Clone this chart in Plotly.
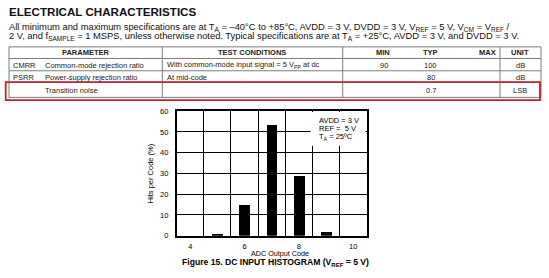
import plotly.graph_objects as go

W, H = 549, 278
FONT = "Liberation Sans, Arial, sans-serif"

# ---- histogram data -------------------------------------------------------
codes = [4, 5, 6, 7, 8, 9, 10]
hits_pct = [0.0, 0.7, 14.6, 53.4, 28.7, 1.7, 0.0]
x_tick_vals = [4, 6, 8, 10]
x_tick_text = ["4", "6", "8", "10"]
code_bounds = [4.5, 5.5, 6.5, 7.5, 8.5, 9.5]
y_tick_vals = [0, 10, 20, 30, 40, 50, 60]

# ---- spec table contents --------------------------------------------------
table_header = ["PARAMETER", "TEST CONDITIONS", "MIN", "TYP", "MAX", "UNIT"]
row_symbols = ["CMRR", "PSRR", ""]
row_names = ["Common-mode rejection ratio", "Power-supply rejection ratio", "Transition noise"]
row_conditions = ["With common-mode input signal = 5 V<sub>PP</sub> at dc", "At mid-code", ""]
row_min = ["90", "", ""]
row_typ = ["100", "80", "0.7"]
row_max = ["", "", ""]
row_units = ["dB", "dB", "LSB"]

title_text = "ELECTRICAL CHARACTERISTICS"
note_lines = [
    "All minimum and maximum specifications are at T<sub>A</sub> = \u201340\u00b0C to +85\u00b0C, "
    "AVDD = 3 V, DVDD = 3 V, V<sub>REF</sub> = 5 V, V<sub>CM</sub> = V<sub>REF</sub> /",
    "2 V, and f<sub>SAMPLE</sub> = 1 MSPS, unless otherwise noted. Typical specifications are at "
    "T<sub>A</sub> = +25\u00b0C, AVDD = 3 V, and DVDD = 3 V.",
]
cond_lines = ["AVDD = 3 V", "REF =  5 V", "T<sub>A</sub> = 25\u00baC"]
caption = "Figure 15. DC INPUT HISTOGRAM (V<sub>REF</sub> = 5 V)"


def px(x):
    return x / W


def py(y):
    return 1 - y / H


# plot-area geometry (pixels)
PL, PR, PT, PB = 176.7, 366.7, 110.7, 239.5

fig = go.Figure()
fig.add_trace(go.Bar(x=codes, y=hits_pct, width=0.4,
                     marker=dict(color="black", line=dict(width=0)),
                     hoverinfo="x+y"))

shapes = []
annotations = []


def text(x, y, s, size, anchor="left", bold=False, color="#222", angle=0):
    annotations.append(dict(
        x=px(x), y=py(y), xref="paper", yref="paper", text=f"<b>{s}</b>" if bold else s,
        showarrow=False, xanchor=anchor, yanchor="middle", textangle=angle, borderpad=0,
        font=dict(family=FONT, size=size, color=color)))


def hline(x0, x1, y, color, width=1):
    shapes.append(dict(type="line", xref="paper", yref="paper", x0=px(x0), x1=px(x1),
                       y0=py(y), y1=py(y), line=dict(color=color, width=width)))


def vline(x, y0, y1, color, width=1):
    shapes.append(dict(type="line", xref="paper", yref="paper", x0=px(x), x1=px(x),
                       y0=py(y0), y1=py(y1), line=dict(color=color, width=width)))


# ---- heading and notes ----------------------------------------------------
text(8, 7.5, title_text, 11.6, bold=True, color="#111")
text(8, 24.0, note_lines[0], 9.35, color="#111")
text(8, 33.4, note_lines[1], 9.35, color="#111")

# ---- table grid -----------------------------------------------------------
GRID = "#7d7d7d"
TL, TR = 9, 541
row_y = [44.3, 56.3, 69.0, 81.0, 96.5]
col_x = [TL, 162.3, 342.7, 500.0, TR]
for y in row_y:
    hline(TL, TR, y, GRID)
for x in col_x:
    vline(x, row_y[0], row_y[-1], GRID)

# header
hy = 50.3
text(86, hy, table_header[0], 7.5, anchor="center", bold=True)
text(252, hy, table_header[1], 7.5, anchor="center", bold=True)
text(383, hy, table_header[2], 7.5, anchor="center", bold=True)
text(431, hy, table_header[3], 7.5, anchor="center", bold=True)
text(497, hy, table_header[4], 7.5, anchor="right", bold=True)
text(520, hy, table_header[5], 7.5, anchor="center", bold=True)

# body rows
body_y = [63.3, 76.0, 89.3]
for i, y in enumerate(body_y):
    if row_symbols[i]:
        text(12, y, row_symbols[i], 7.5)
    text(44, y, row_names[i], 7.5)
    if row_conditions[i]:
        text(165.5, y, row_conditions[i], 7.5)
    if row_min[i]:
        text(384, y, row_min[i], 7.5, anchor="center")
    if row_typ[i]:
        text(431, y, row_typ[i], 7.5, anchor="center")
    if row_max[i]:
        text(497, y, row_max[i], 7.5, anchor="right")
    text(520, y, row_units[i], 7.5, anchor="center")

# highlight around the transition-noise row
shapes.append(dict(type="rect", xref="paper", yref="paper",
                   x0=px(5.7), x1=px(540), y0=py(99.3), y1=py(80.7),
                   line=dict(color="#c8202a", width=1.8), fillcolor="rgba(0,0,0,0)"))

# ---- chart labels -----------------------------------------------------------
# white panel behind the test-condition legend
shapes.append(dict(type="rect", xref="paper", yref="paper", layer="above",
                   x0=px(310.5), x1=px(PR - 1), y0=py(146.5), y1=py(PT + 1),
                   line=dict(width=0), fillcolor="white"))
for s, y in zip(cond_lines, [120, 129, 137.7]):
    text(318, y, s, 7.5, color="black")

text(150, 175, "Hits per Code (%)", 7.5, anchor="center", color="black", angle=-90)
text(280, 257.4, "ADC Output Code", 7.2, anchor="center", color="black")
text(275, 267.0, caption, 8.6, anchor="center", bold=True, color="black")

fig.update_layout(
    width=W, height=H, margin=dict(l=0, r=0, t=0, b=0),
    paper_bgcolor="white", plot_bgcolor="white", showlegend=False,
    shapes=shapes, annotations=annotations, bargap=0,
    font=dict(family=FONT, size=7.5, color="black"),
    xaxis=dict(domain=[px(PL), px(PR)], range=[3.5, 10.5],
               tickmode="array", tickvals=x_tick_vals, ticktext=x_tick_text,
               showgrid=False, zeroline=False, ticks="", ticklabelstandoff=3,
               showline=True, mirror=True, linecolor="black", linewidth=1.5,
               minor=dict(tickmode="array", tickvals=code_bounds, showgrid=True,
                          gridcolor="black", gridwidth=1, ticks=""),
               tickfont=dict(size=7.5, color="black"), fixedrange=True),
    yaxis=dict(domain=[py(PB), py(PT)], range=[0, 60],
               tickmode="array", tickvals=y_tick_vals,
               showgrid=True, gridcolor="black", gridwidth=1,
               zeroline=False, ticks="", ticklabelstandoff=5,
               showline=True, mirror=True, linecolor="black", linewidth=1.5,
               tickfont=dict(size=7.5, color="black"), fixedrange=True),
)

fig.write_html("out.html")
